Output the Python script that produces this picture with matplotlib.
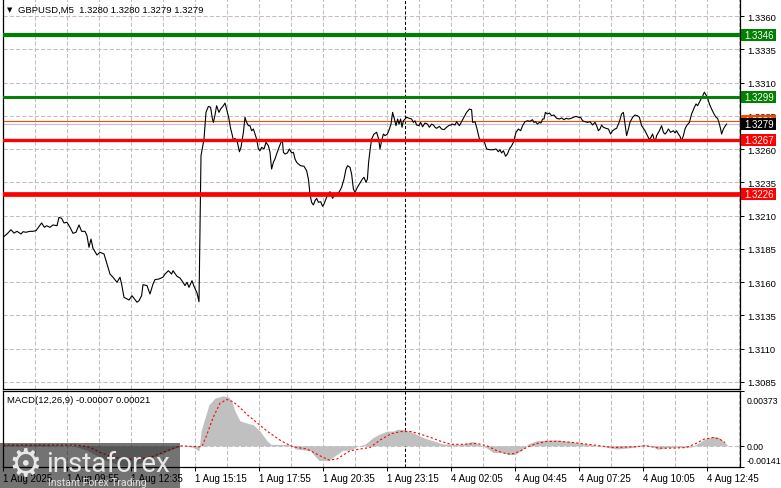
import matplotlib
matplotlib.use("Agg")
import matplotlib.pyplot as plt
from matplotlib.patches import Rectangle
from matplotlib import transforms

plt.rcParams['font.family'] = ['Liberation Sans', 'DejaVu Sans']
plt.rcParams['font.size'] = 7

# ---- values; x = 5-minute bar number counted from 1 Aug 07:15 ----
bars = [0, 2, 4, 5.5, 7, 9, 10, 11.5, 13.5, 15, 16.5, 17.7, 19.3, 20.7, 21.8, 23.5, 25, 27, 28, 29.3,
        30.5, 32, 33.5, 35, 36.5, 38, 39.3, 41, 42, 43, 44, 45, 47, 48.5, 50.5, 52, 53.5, 55, 57, 58.5,
        59.3, 60.5, 62, 63, 64.5, 65.7, 67, 68, 69.3, 70, 72, 73.5, 75, 76, 78, 80, 81, 82.7, 84.3, 85,
        87, 88.5, 90, 91, 92, 93, 94.5, 95.5, 97, 98, 99, 100.5, 101.5, 102.7, 103.8, 104.7, 105.2, 106,
        106.8, 108, 108.8, 110.2, 111, 111.8, 113, 113.8, 114.7, 115.2, 116, 117.2, 118.2, 119, 120.2,
        121, 121.8, 122.7, 123.5, 124.3, 125.2, 126, 126.8, 127.7, 128.5, 129.3, 130.5, 131.5, 132.7,
        133.5, 134.3, 135.2, 136, 136.8, 138, 139, 139.7, 140.2, 141, 142.2, 143.2, 144.3, 145.2, 146,
        146.8, 147.7, 148.8, 150.5, 151.8, 152.7, 153.5, 154.3, 155.2, 156, 156.8, 157.7, 158.8, 159.8,
        160.5, 161.8, 162.7, 163.5, 164.8, 165.7, 166.8, 168.2, 169.3, 170.5, 171.5, 172.3, 173.5, 174.3,
        175.2, 176, 177.2, 178.5, 179.7, 180.5, 181.5, 182.2, 182.8, 183.5, 184.3, 185.5, 186.8, 187.8,
        188.5, 189.3, 190.2, 191, 192.2, 193.2, 194, 194.8, 195.7, 196.5, 197.3, 198, 198.8, 199.5,
        200.2, 201, 201.8, 203.2, 204.3, 205.2, 206, 206.8, 208, 208.8, 209.8, 211, 212.2, 213.2, 214.3,
        215.2, 216, 216.8, 218.2, 219.3, 220.5, 221.8, 222.8, 223.8, 224.8, 226, 226.8, 228.2, 230.2,
        231.8, 233.2, 234.3, 234.8, 236, 236.8, 238.2, 239.3, 240.5, 241.8, 243.5, 245.2, 246.5, 247.7,
        248.5, 249.3, 250.2, 251.3, 252.2, 253.2, 254.3, 255.2, 255.7, 256.5, 257.7, 258.8, 259.8, 261,
        262.3, 263.5, 264.7, 265.5, 266.3, 267.2, 268.2, 269, 269.8, 270.5, 271.2, 272.2, 273.2, 274.3,
        275.5, 276.8, 278.2, 279.3, 280.5, 281.5, 282.7, 284, 285.2, 286.5, 287.7, 288.8, 289.8, 291,
        292.2, 293.5, 294.8, 296, 296.8, 297.7, 298.5, 299.3, 300.2, 301.5, 302.7, 303.8, 304.8, 306,
        306.8, 308.2, 309.3, 310.2, 311, 311.8, 312.7, 313.5, 314.8, 316, 317.2, 318.2, 319.3, 320.2,
        321, 322.2, 323.2, 324, 324.8, 325.5, 326.2, 326.8, 328.2, 329.3, 330.2, 331, 331.8, 332.7,
        333.8, 335.2, 336, 336.8, 337.7, 338.5, 339.3, 340.2, 341, 341.8, 343.2, 344.3, 345.7, 346.5,
        347.3, 348.2, 349, 349.7, 350.2, 350.7, 351.5, 352.2, 353.2, 354.3, 355.5, 356.5, 357.3, 358.2,
        358.8, 359.3, 360.2, 361, 361.8]
close = [1.31937, 1.31962, 1.31994, 1.31969, 1.31982, 1.31962, 1.31979, 1.31975, 1.31982, 1.31982,
         1.31987, 1.32012, 1.32045, 1.32012, 1.32024, 1.32012, 1.32030, 1.32024, 1.32087, 1.32080,
         1.32045, 1.32050, 1.32012, 1.31967, 1.31975, 1.32030, 1.31982, 1.31982, 1.31949, 1.31862,
         1.31924, 1.31854, 1.31804, 1.31824, 1.31812, 1.31737, 1.31661, 1.31637, 1.31599, 1.31637,
         1.31586, 1.31486, 1.31474, 1.31466, 1.31498, 1.31474, 1.31449, 1.31461, 1.31498, 1.31581,
         1.31574, 1.31511, 1.31586, 1.31619, 1.31624, 1.31637, 1.31661, 1.31686, 1.31661, 1.31686,
         1.31644, 1.31631, 1.31599, 1.31574, 1.31599, 1.31561, 1.31611, 1.31569, 1.31519, 1.31453,
         1.32550, 1.32676, 1.32876, 1.32921, 1.32914, 1.32826, 1.32801, 1.32856, 1.32926, 1.32876,
         1.32901, 1.32926, 1.32946, 1.32901, 1.32826, 1.32756, 1.32701, 1.32663, 1.32681, 1.32651,
         1.32580, 1.32613, 1.32726, 1.32839, 1.32801, 1.32776, 1.32776, 1.32738, 1.32751, 1.32713,
         1.32676, 1.32601, 1.32588, 1.32613, 1.32601, 1.32651, 1.32625, 1.32576, 1.32450, 1.32501,
         1.32526, 1.32563, 1.32613, 1.32651, 1.32663, 1.32576, 1.32563, 1.32571, 1.32601, 1.32571,
         1.32576, 1.32526, 1.32501, 1.32488, 1.32475, 1.32471, 1.32438, 1.32375, 1.32262, 1.32200,
         1.32180, 1.32212, 1.32230, 1.32200, 1.32205, 1.32170, 1.32187, 1.32238, 1.32262, 1.32280,
         1.32230, 1.32255, 1.32262, 1.32280, 1.32313, 1.32375, 1.32450, 1.32475, 1.32463, 1.32413,
         1.32300, 1.32275, 1.32313, 1.32345, 1.32375, 1.32388, 1.32350, 1.32375, 1.32501, 1.32588,
         1.32676, 1.32713, 1.32726, 1.32676, 1.32601, 1.32663, 1.32713, 1.32701, 1.32713, 1.32751,
         1.32788, 1.32876, 1.32826, 1.32776, 1.32826, 1.32788, 1.32826, 1.32764, 1.32813, 1.32826,
         1.32839, 1.32831, 1.32826, 1.32801, 1.32813, 1.32781, 1.32776, 1.32801, 1.32768, 1.32796,
         1.32788, 1.32764, 1.32788, 1.32781, 1.32764, 1.32756, 1.32771, 1.32751, 1.32746, 1.32764,
         1.32776, 1.32781, 1.32788, 1.32781, 1.32806, 1.32776, 1.32831, 1.32876, 1.32901, 1.32896,
         1.32801, 1.32806, 1.32764, 1.32676, 1.32668, 1.32663, 1.32601, 1.32595, 1.32595, 1.32601,
         1.32580, 1.32595, 1.32571, 1.32588, 1.32546, 1.32563, 1.32601, 1.32625, 1.32651, 1.32681,
         1.32726, 1.32751, 1.32738, 1.32776, 1.32806, 1.32813, 1.32809, 1.32821, 1.32801, 1.32806,
         1.32788, 1.32801, 1.32796, 1.32826, 1.32826, 1.32876, 1.32864, 1.32871, 1.32851, 1.32856,
         1.32831, 1.32826, 1.32834, 1.32821, 1.32831, 1.32826, 1.32831, 1.32839, 1.32846, 1.32839,
         1.32839, 1.32813, 1.32806, 1.32801, 1.32806, 1.32781, 1.32801, 1.32776, 1.32738, 1.32751,
         1.32781, 1.32764, 1.32756, 1.32751, 1.32713, 1.32738, 1.32751, 1.32756, 1.32806, 1.32864,
         1.32876, 1.32788, 1.32701, 1.32751, 1.32801, 1.32839, 1.32856, 1.32851, 1.32839, 1.32776,
         1.32756, 1.32738, 1.32701, 1.32671, 1.32689, 1.32713, 1.32676, 1.32663, 1.32701, 1.32738,
         1.32776, 1.32726, 1.32713, 1.32726, 1.32751, 1.32726, 1.32738, 1.32721, 1.32738, 1.32713,
         1.32696, 1.32663, 1.32701, 1.32751, 1.32776, 1.32801, 1.32864, 1.32914, 1.32939, 1.32926,
         1.32952, 1.32976, 1.32989, 1.33014, 1.33027, 1.33006, 1.32989, 1.32939, 1.32901, 1.32864,
         1.32839, 1.32831, 1.32788, 1.32751, 1.32713, 1.32751, 1.32771, 1.32788]

hist_bars = [0, 20, 35, 42, 50, 58, 64, 70, 78, 85, 90, 95, 98, 99, 101, 103, 106, 110, 113, 114.5,
             116, 118.5, 123, 125, 128.5, 132, 134, 144, 146, 154, 155, 158, 163, 165, 170, 173, 178,
             181, 185, 188, 192, 195, 197, 200, 205, 210, 215, 220, 223, 229, 235, 238, 242, 245, 250,
             253, 256, 260, 262.5, 266.7, 273, 277, 283, 290, 298, 307, 316, 320, 324, 327.5, 332, 337,
             344, 347.5, 350.8, 355, 358, 361, 362.5]
hist_vals = [0.0001, 0.0001, 0.0, -0.0003, -0.0009, -0.0013, -0.0014, -0.0011, -0.0006, -0.0002, 0.0,
             -0.0001, -0.00035, 0.001, 0.0019, 0.0028, 0.00325, 0.0034, 0.0033, 0.003, 0.00235, 0.0017,
             0.0015, 0.00145, 0.001, 0.00034, 0.0001, 0.0001, -0.0002, -0.00034, -0.00056, -0.001, -0.001,
             -0.00078, -0.0003, -0.0003, 0.0, 0.0001, 0.00056, 0.00078, 0.001, 0.001, 0.00112, 0.00112,
             0.0009, 0.00056, 0.00034, 0.00012, 0.00012, 0.0001, 0.0003, 0.0001, -0.00016, -0.00045,
             -0.00045, -0.0006, -0.0006, -0.00022, 0.00012, 0.00034, 0.0004, 0.0004, 0.0003, 0.00016, 0.0,
             -0.00022, -0.0001, 0.0001, 0.0, -0.00024, -0.00012, -0.0001, -0.0001, 0.00016, 0.00045,
             0.00063, 0.00056, 0.00022, 0.0]

sig_bars = [0, 37, 43.5, 48.5, 55, 62, 68.5, 75, 82, 88.5, 98, 99.5, 102, 105, 108.5, 112, 115, 118.5,
            122, 127, 132, 139, 145, 152, 158.5, 163, 167, 173.5, 178.5, 183.5, 188.5, 194, 199, 204, 209,
            214, 219, 224, 230, 237, 242, 247, 252, 255.5, 258.8, 262, 267, 272, 278.5, 285, 291.5, 298.5,
            305, 315, 321.5, 328, 335, 341.5, 346.5, 350.5, 355, 358, 361]
sig_vals = [0.00005, 0.00005, -0.0001, -0.00045, -0.00078, -0.0009, -0.0009, -0.00072, -0.00034, 0.0,
            -0.00007, -0.00005, 0.00078, 0.0019, 0.0029, 0.00315, 0.003, 0.0026, 0.00213, 0.00157, 0.001,
            0.00034, -0.00007, -0.00022, -0.00068, -0.00097, -0.0009, -0.00034, -0.00022, -0.00012,
            0.00039, 0.00082, 0.00097, 0.00097, 0.00078, 0.00056, 0.0003, 0.0001, 0.0001, 0.00016, 0.0,
            -0.00034, -0.00056, -0.00053, -0.00034, -0.0001, 0.00016, 0.0003, 0.0003, 0.00022, 0.00012,
            0.0, -0.00012, -0.00007, 0.0, -0.00016, -0.00016, -0.00012, 0.00016, 0.00045, 0.00056,
            0.00048, 0.00022]

time_labels = ['1 Aug 2025', '1 Aug 09:55', '1 Aug 12:35', '1 Aug 15:15', '1 Aug 17:55', '1 Aug 20:35',
               '1 Aug 23:15', '4 Aug 02:05', '4 Aug 04:45', '4 Aug 07:25', '4 Aug 10:05', '4 Aug 12:45']
label_bars = list(range(0, 353, 32))
grid_bars = list(range(16, 369, 32))
session_break = 201

price_ticks = [1.3085, 1.3110, 1.3135, 1.3160, 1.3185, 1.3210, 1.3235, 1.3260, 1.3285, 1.3310,
               1.3335, 1.3360]
levels = [1.3346, 1.3299, 1.3267, 1.3226]
level_colors = ['#008000', '#008000', '#ff0000', '#ff0000']
level_widths = [3.0, 2.1, 2.4, 3.4]
ask_line = 1.3281
bid_line = 1.3279

macd_ticks = [-0.00141, 0.0, 0.00373]
macd_tick_labels = ['-0.00141', '0.00', '0.00373']

# ---- layout in pixels ----
W, H = 781, 489
fig = plt.figure(figsize=(W / 100, H / 100), dpi=100)


def box(x0, y0, x1, y1):
    return [x0 / W, 1 - y1 / H, (x1 - x0) / W, (y1 - y0) / H]


ax = fig.add_axes(box(3, 0, 740, 390))
axm = fig.add_axes(box(3, 392, 740, 467.5))

ax.set_xlim(0, 368.5)
ax.set_ylim(1.30797, 1.33728)
axm.set_xlim(0, 368.5)
axm.set_ylim(-0.00141, 0.00373)

grid_kw = dict(color='#c0c0c0', linestyle=(0, (4, 2)), linewidth=0.75)
for a in (ax, axm):
    a.set_axisbelow(True)
    a.set_xticks(label_bars)
    a.set_xticks(grid_bars, minor=True)
    a.grid(True, axis='x', which='both', **grid_kw)
    a.yaxis.tick_right()
    for s in a.spines.values():
        s.set_linewidth(0.9)
    a.tick_params(axis='y', which='both', direction='out', length=3, width=0.7, pad=2, labelsize=6.8)
    a.tick_params(axis='x', which='minor', length=0)
    a.axvline(session_break, color='black', linestyle=(0, (3, 2)), linewidth=0.75, zorder=2)

ax.spines['top'].set_visible(False)
ax.set_yticks(price_ticks)
ax.set_yticklabels([f'{v:.4f}' for v in price_ticks])
ax.grid(True, axis='y', **grid_kw)
ax.tick_params(axis='x', which='both', length=0, labelbottom=False)

axm.set_yticks(macd_ticks)
axm.set_yticklabels(macd_tick_labels)
axm.tick_params(axis='y', labelsize=6.3, pad=1.5)
labs = axm.get_yticklabels()
labs[0].set_transform(labs[0].get_transform() + transforms.ScaledTranslation(0, 5 / 72, fig.dpi_scale_trans))
labs[2].set_transform(labs[2].get_transform() + transforms.ScaledTranslation(0, -6 / 72, fig.dpi_scale_trans))
axm.set_xticklabels(time_labels)
axm.tick_params(axis='x', which='major', direction='out', length=3, width=0.7, pad=2, labelsize=7)
for lab in axm.get_xticklabels():
    lab.set_horizontalalignment('left')

# ---- price panel ----
ax.axhline(bid_line, color='#c0c0c0', linewidth=0.8, zorder=2)
ax.axhline(ask_line, color='#ff4500', linewidth=0.8, zorder=2)
ax.plot(bars, close, color='black', linewidth=0.8, zorder=3)
for lv, c, lw in zip(levels, level_colors, level_widths):
    ax.axhline(lv, color=c, linewidth=lw, zorder=4)

# price tags on the right scale, later tags drawn over earlier ones
ppp = (1.33728 - 1.30797) / 390
tag_tr = transforms.blended_transform_factory(fig.transFigure, ax.transData)
tags = [(levels[0], level_colors[0]), (levels[1], level_colors[1]), (ask_line, '#ff4500'),
        (bid_line, 'black'), (levels[2], level_colors[2]), (levels[3], level_colors[3])]
for i, (val, c) in enumerate(tags):
    fig.add_artist(Rectangle((741 / W, val - 6 * ppp), 35 / W, 12 * ppp, transform=tag_tr,
                             facecolor=c, edgecolor='none', clip_on=False, zorder=5 + 2 * i))
    fig.text(759 / W, val, f'{val:.4f}', transform=tag_tr, ha='center', va='center',
             color='white', fontsize=7, zorder=6 + 2 * i)

# ---- MACD panel ----
axm.axhline(0, **grid_kw, zorder=1)
axm.fill_between(hist_bars, 0, hist_vals, color='#c0c0c0', linewidth=0, zorder=2)
axm.plot(sig_bars, sig_vals, color='red', linestyle=(0, (2, 2)), linewidth=0.8, zorder=3)

# ---- captions ----
fig.text(7 / W, 1 - 10 / H, '▼', fontsize=5, va='center', family=['DejaVu Sans'])
fig.text(18 / W, 1 - 10 / H, 'GBPUSD,M5  1.3280 1.3280 1.3279 1.3279', fontsize=6.8, va='center')
fig.text(7 / W, 1 - 401 / H, 'MACD(12,26,9) -0.00007 0.00021', fontsize=6.8, va='center')

# ---- watermark ----
fig.add_artist(Rectangle((0, 0), 180 / W, 45 / H, transform=fig.transFigure, facecolor='black',
                         alpha=0.55, edgecolor='none', zorder=30))
fig.text(8 / W, 1 - 466 / H, '⚙', fontsize=27, va='center', color='#e8e8e8',
         family=['DejaVu Sans'], zorder=31)
fig.text(46 / W, 1 - 472 / H, 'instaforex', fontsize=20, va='baseline', color='#e8e8e8',
         family=['Roboto', 'DejaVu Sans'], zorder=31)
fig.text(48 / W, 1 - 483 / H, 'Instant Forex Trading', fontsize=7.5, va='center', color='#e0e0e0',
         family=['Roboto', 'DejaVu Sans'], zorder=31)

fig.savefig('out.png', dpi=100)
